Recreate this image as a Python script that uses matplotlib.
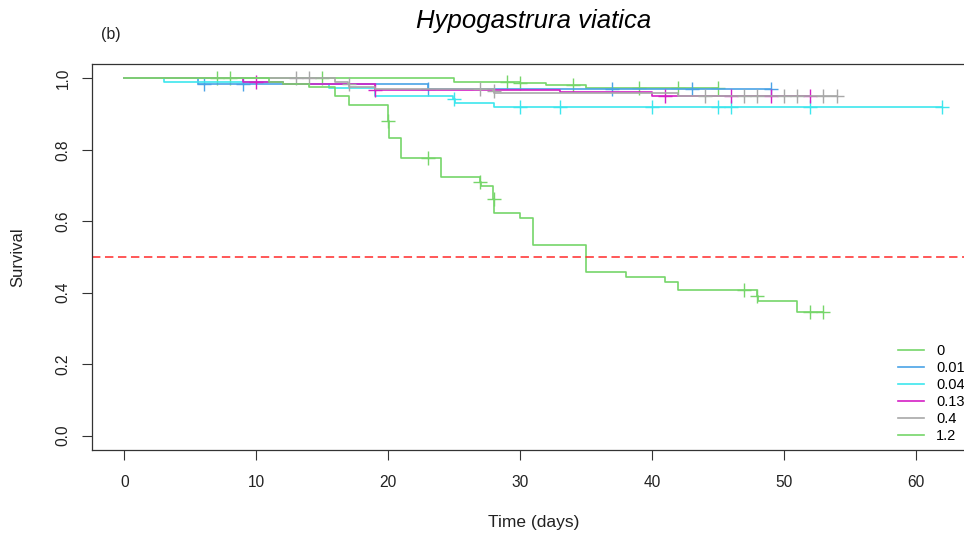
import numpy as np
import matplotlib
matplotlib.use("Agg")
import matplotlib.pyplot as plt

plt.rcParams['font.family'] = ['Liberation Sans', 'DejaVu Sans']

# Kaplan-Meier curves per concentration: event times, survival after each
# event, censoring times and the last follow-up time
labels = ['0', '0.01', '0.04', '0.13', '0.4', '1.2']
colors = ['#76d66a', '#4aa3e6', '#3de6ee', '#d41fc5', '#a8a8a8', '#76d66a']

c0_times = [0, 25, 30, 32, 35]
c0_surv = [1.0, 0.991, 0.986, 0.981, 0.974]
c0_cens = [7, 8, 15, 29, 30, 34, 39, 42, 45]

c001_times = [0, 5.6, 23]
c001_surv = [1.0, 0.983, 0.970]
c001_cens = [6, 9, 23, 37, 43, 49]

c004_times = [0, 3, 12, 15.5, 19, 24.95, 25.05, 28]
c004_surv = [1.0, 0.990, 0.984, 0.973, 0.950, 0.941, 0.930, 0.921]
c004_cens = [25, 30, 33, 40, 45, 46, 52, 62]

c013_times = [0, 9, 12, 19, 33, 40]
c013_surv = [1.0, 0.990, 0.984, 0.968, 0.962, 0.950]
c013_cens = [10, 19, 41, 46, 49, 52]

c04_times = [0, 16, 16.95, 17.05, 19, 27.95, 28.05, 42]
c04_surv = [1.0, 0.990, 0.984, 0.977, 0.970, 0.965, 0.959, 0.950]
c04_cens = [13, 14, 17, 27, 28, 44, 47, 48, 50, 51, 53, 54]

c12_times = [0, 11, 12, 14, 16, 17, 19.95, 20.05, 21, 24, 26.95, 27.05,
             27.95, 28.05, 30, 31, 35, 38, 41, 42, 47.95, 48.05, 51]
c12_surv = [1.0, 0.990, 0.984, 0.977, 0.950, 0.925, 0.881, 0.832, 0.776,
            0.723, 0.711, 0.699, 0.663, 0.623, 0.609, 0.533, 0.457, 0.445,
            0.431, 0.408, 0.392, 0.378, 0.347]
c12_cens = [20, 23, 27, 28, 47, 48, 52, 53]

curves = [
    (c0_times, c0_surv, c0_cens),
    (c001_times, c001_surv, c001_cens),
    (c004_times, c004_surv, c004_cens),
    (c013_times, c013_surv, c013_cens),
    (c04_times, c04_surv, c04_cens),
    (c12_times, c12_surv, c12_cens),
]

median_line = 0.5
x_ticks = [0, 10, 20, 30, 40, 50, 60]
y_ticks = [0.0, 0.2, 0.4, 0.6, 0.8, 1.0]

W, H = 964, 541
fig = plt.figure(figsize=(W / 100, H / 100), dpi=100)
left, right, bottom, top = 91.7, 974.8, 450.0, 64.0
ax = fig.add_axes([left / W, 1 - bottom / H, (right - left) / W, (bottom - top) / H])

handles = []
for (t, s, c), col, lab in zip(curves, colors, labels):
    t = np.asarray(t, float)
    s = np.asarray(s, float)
    c = np.asarray(c, float)
    end = c.max() if c.size else t.max()
    xs = np.append(t, end)
    ys = np.append(s, s[-1])
    h, = ax.step(xs, ys, where='post', color=col, lw=1.2, label=lab)
    idx = np.searchsorted(t, c, side='right') - 1
    ax.plot(c, s[idx], linestyle='none', marker='+', ms=9.5, mew=1.0, color=col)
    handles.append(h)

ax.axhline(median_line, color='#ff2a2a', lw=1.1, linestyle=(0, (5.5, 3.0)))

ax.set_xlim(-2.48, 64.48)
ax.set_ylim(-0.04, 1.04)
ax.set_xticks(x_ticks)
ax.set_xticklabels([str(v) for v in x_ticks])
ax.set_yticks(y_ticks)
ax.set_yticklabels([f"{v:.1f}" for v in y_ticks], rotation=90, va='center')

for sp in ax.spines.values():
    sp.set_color('#333333')
    sp.set_linewidth(0.9)
ax.tick_params(axis='both', direction='out', length=7.2, width=0.8,
               color='#333333', labelsize=11.2, labelcolor='#222222')
ax.tick_params(axis='x', pad=10.5)
ax.tick_params(axis='y', pad=8.0)

ax.set_xlabel('Time (days)', fontsize=12.5, color='#222222')
ax.xaxis.label.set_va('center')
ax.xaxis.set_label_coords(0.5, (bottom - 523) / (bottom - top))
ax.set_ylabel('Survival', fontsize=12, color='#222222')
ax.yaxis.label.set_va('center')
ax.yaxis.set_label_coords((18 - left) / (right - left), 0.5)

ax.set_title('Hypogastrura viatica', fontstyle='italic', fontsize=18.5,
             y=(bottom - 21) / (bottom - top), va='center', pad=0)
fig.text(111 / W, 1 - 35 / H, '(b)', ha='center', va='center', fontsize=11.5,
         color='#222222')

ax.legend(handles=handles, labels=labels, loc='upper left',
          bbox_to_anchor=(898 / W, 1 - 344 / H), bbox_transform=fig.transFigure,
          frameon=False, fontsize=10.5, handlelength=1.78, handletextpad=0.82,
          labelspacing=0.21, borderpad=0, borderaxespad=0)

fig.savefig('out.png', dpi=100)
